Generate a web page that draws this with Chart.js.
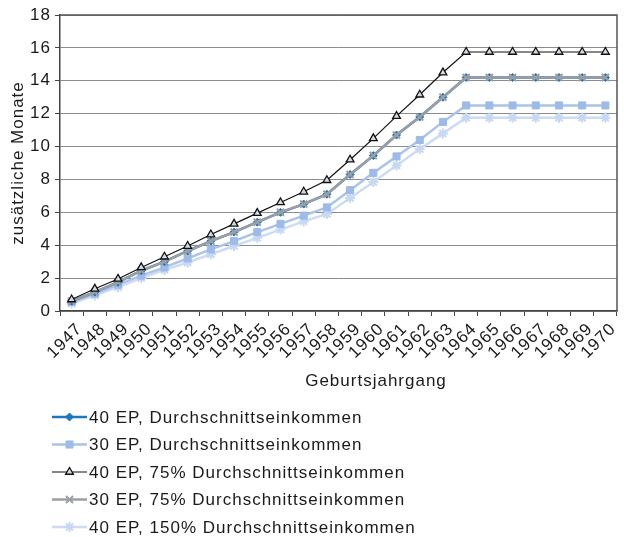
<!DOCTYPE html>
<html><head><meta charset="utf-8">
<script src="https://cdn.jsdelivr.net/npm/chart.js@4/dist/chart.umd.min.js"></script>
<style>html,body{margin:0;padding:0;background:#fff}#wrap{width:624px;height:537px}</style>
</head><body><div id="wrap"><canvas id="c" width="624" height="537"></canvas></div>
<script>
const years = ['1947','1948','1949','1950','1951','1952','1953','1954','1955','1956','1957','1958','1959','1960','1961','1962','1963','1964','1965','1966','1967','1968','1969','1970'];
const ep40Avg   = [0.6,1.15,1.75,2.45,3.0,3.65,4.25,4.8,5.4,6.0,6.5,7.1,8.3,9.45,10.7,11.8,13.0,14.2,14.2,14.2,14.2,14.2,14.2,14.2];
const ep30Avg   = [0.55,1.05,1.6,2.15,2.65,3.2,3.75,4.25,4.8,5.3,5.8,6.3,7.35,8.4,9.4,10.4,11.5,12.5,12.5,12.5,12.5,12.5,12.5,12.5];
const ep40p75   = [0.7,1.35,1.95,2.65,3.3,3.95,4.65,5.3,5.95,6.6,7.25,7.95,9.2,10.5,11.85,13.15,14.5,15.75,15.75,15.75,15.75,15.75,15.75,15.75];
const ep30p75   = [0.6,1.15,1.75,2.45,3.0,3.65,4.25,4.8,5.4,6.0,6.5,7.1,8.3,9.45,10.7,11.8,13.0,14.2,14.2,14.2,14.2,14.2,14.2,14.2];
const ep40p150  = [0.45,0.95,1.45,2.0,2.5,2.95,3.45,3.95,4.45,4.95,5.45,5.9,6.87,7.85,8.85,9.85,10.8,11.75,11.75,11.75,11.75,11.75,11.75,11.75];
const seriesLabels = ['40 EP, Durchschnittseinkommen','30 EP, Durchschnittseinkommen','40 EP, 75% Durchschnittseinkommen','30 EP, 75% Durchschnittseinkommen','40 EP, 150% Durchschnittseinkommen'];
const yTitle = 'zusätzliche Monate';
const xTitle = 'Geburtsjahrgang';

const FONT = '"Liberation Sans", Arial, Helvetica, sans-serif';
const FS = 17;
Chart.defaults.font.family = FONT;
Chart.defaults.font.size = FS;
Chart.defaults.color = '#1a1a1a';

function setSpacing(chart){ try{ chart.ctx.letterSpacing = '1px'; }catch(e){} }

const frameAndLegend = {
  id:'frameAndLegend',
  beforeLayout(chart){ setSpacing(chart); },
  beforeDraw(chart){ setSpacing(chart); },
  beforeDatasetsDraw(chart){
    const {ctx, chartArea:a} = chart;
    ctx.save();
    ctx.strokeStyle = '#555'; ctx.lineWidth = 1.5;
    ctx.beginPath();
    ctx.moveTo(a.left, a.top); ctx.lineTo(a.right, a.top); ctx.lineTo(a.right, a.bottom);
    ctx.stroke();
    ctx.restore();
  },
  afterDraw(chart){
    const ctx = chart.ctx;
    ctx.save();
    setSpacing(chart);
    ctx.font = FS + 'px ' + FONT;
    ctx.fillStyle = '#1a1a1a';
    ctx.textAlign = 'center'; ctx.textBaseline = 'middle';
    ctx.fillText(xTitle, 376, 381);
    ctx.textAlign = 'left';
    const x0 = 52, x1 = 87, y0 = 417, dy = 27.5;
    chart.data.datasets.forEach((ds, i) => {
      const y = y0 + i * dy;
      ctx.save();
      ctx.strokeStyle = ds.borderColor; ctx.lineWidth = ds.borderWidth;
      ctx.beginPath(); ctx.moveTo(x0, y); ctx.lineTo(x1, y); ctx.stroke();
      ctx.fillStyle = ds.pointBackgroundColor; ctx.strokeStyle = ds.pointBorderColor;
      ctx.lineWidth = ds.pointBorderWidth;
      Chart.helpers.drawPoint(ctx, {pointStyle: ds.pointStyle, radius: ds.pointRadius, rotation: 0, borderWidth: ds.pointBorderWidth}, (x0 + x1) / 2, y);
      ctx.restore();
      ctx.fillStyle = '#1a1a1a';
      ctx.fillText(ds.label, x1 + 2, y + 1);
    });
    ctx.restore();
  }
};

new Chart(document.getElementById('c'), {
  type: 'line',
  data: {
    labels: years,
    datasets: [
      {label: seriesLabels[0], data: ep40Avg, order: 2, borderColor: '#1b78be', borderWidth: 2.5,
       pointStyle: 'rectRot', pointRadius: 4, pointBackgroundColor: '#1b78be', pointBorderColor: '#1b78be', pointBorderWidth: 1},
      {label: seriesLabels[1], data: ep30Avg, order: 3, borderColor: '#a9c3ea', borderWidth: 2.5,
       pointStyle: 'rect', pointRadius: 5, pointBackgroundColor: '#9dbbe8', pointBorderColor: '#9dbbe8', pointBorderWidth: 1},
      {label: seriesLabels[2], data: ep40p75, order: 0, borderColor: '#111', borderWidth: 1.2,
       pointStyle: 'triangle', pointRadius: 4.5, pointBackgroundColor: '#d3dbea', pointBorderColor: '#111', pointBorderWidth: 1.3},
      {label: seriesLabels[3], data: ep30p75, order: 1, borderColor: '#9b9fa4', borderWidth: 2.5,
       pointStyle: 'crossRot', pointRadius: 5, pointBackgroundColor: '#9b9fa4', pointBorderColor: '#9b9fa4', pointBorderWidth: 2},
      {label: seriesLabels[4], data: ep40p150, order: 4, borderColor: '#cddcf4', borderWidth: 2.5,
       pointStyle: 'star', pointRadius: 5, pointBackgroundColor: '#c6d8f3', pointBorderColor: '#c6d8f3', pointBorderWidth: 2}
    ]
  },
  options: {
    responsive: false,
    animation: false,
    devicePixelRatio: 1,
    layout: {padding: {top: 15, right: 1, left: 8, bottom: 148}},
    plugins: {legend: {display: false}, tooltip: {enabled: false}},
    elements: {line: {tension: 0}},
    scales: {
      x: {
        type: 'category',
        offset: true,
        afterFit(s){ s.height = 78; },
        grid: {display: true, drawOnChartArea: false, drawTicks: true, tickLength: 5, offset: true, color: '#444', lineWidth: 1},
        border: {display: true, color: '#444', width: 1.5},
        ticks: {autoSkip: false, maxRotation: 45, minRotation: 45, padding: 3, labelOffset: 8, color: '#1a1a1a', font: {size: FS}}
      },
      y: {
        min: 0, max: 18,
        afterFit(s){ s.width = 52; },
        title: {display: true, text: yTitle, padding: 0, color: '#1a1a1a', font: {size: FS}},
        grid: {color: '#8c8c8c', lineWidth: 1, tickLength: 5, tickColor: '#444'},
        border: {display: true, color: '#444', width: 1.5},
        ticks: {stepSize: 2, padding: 4, color: '#1a1a1a', font: {size: FS}}
      }
    }
  },
  plugins: [frameAndLegend]
});
</script>
</body></html>
